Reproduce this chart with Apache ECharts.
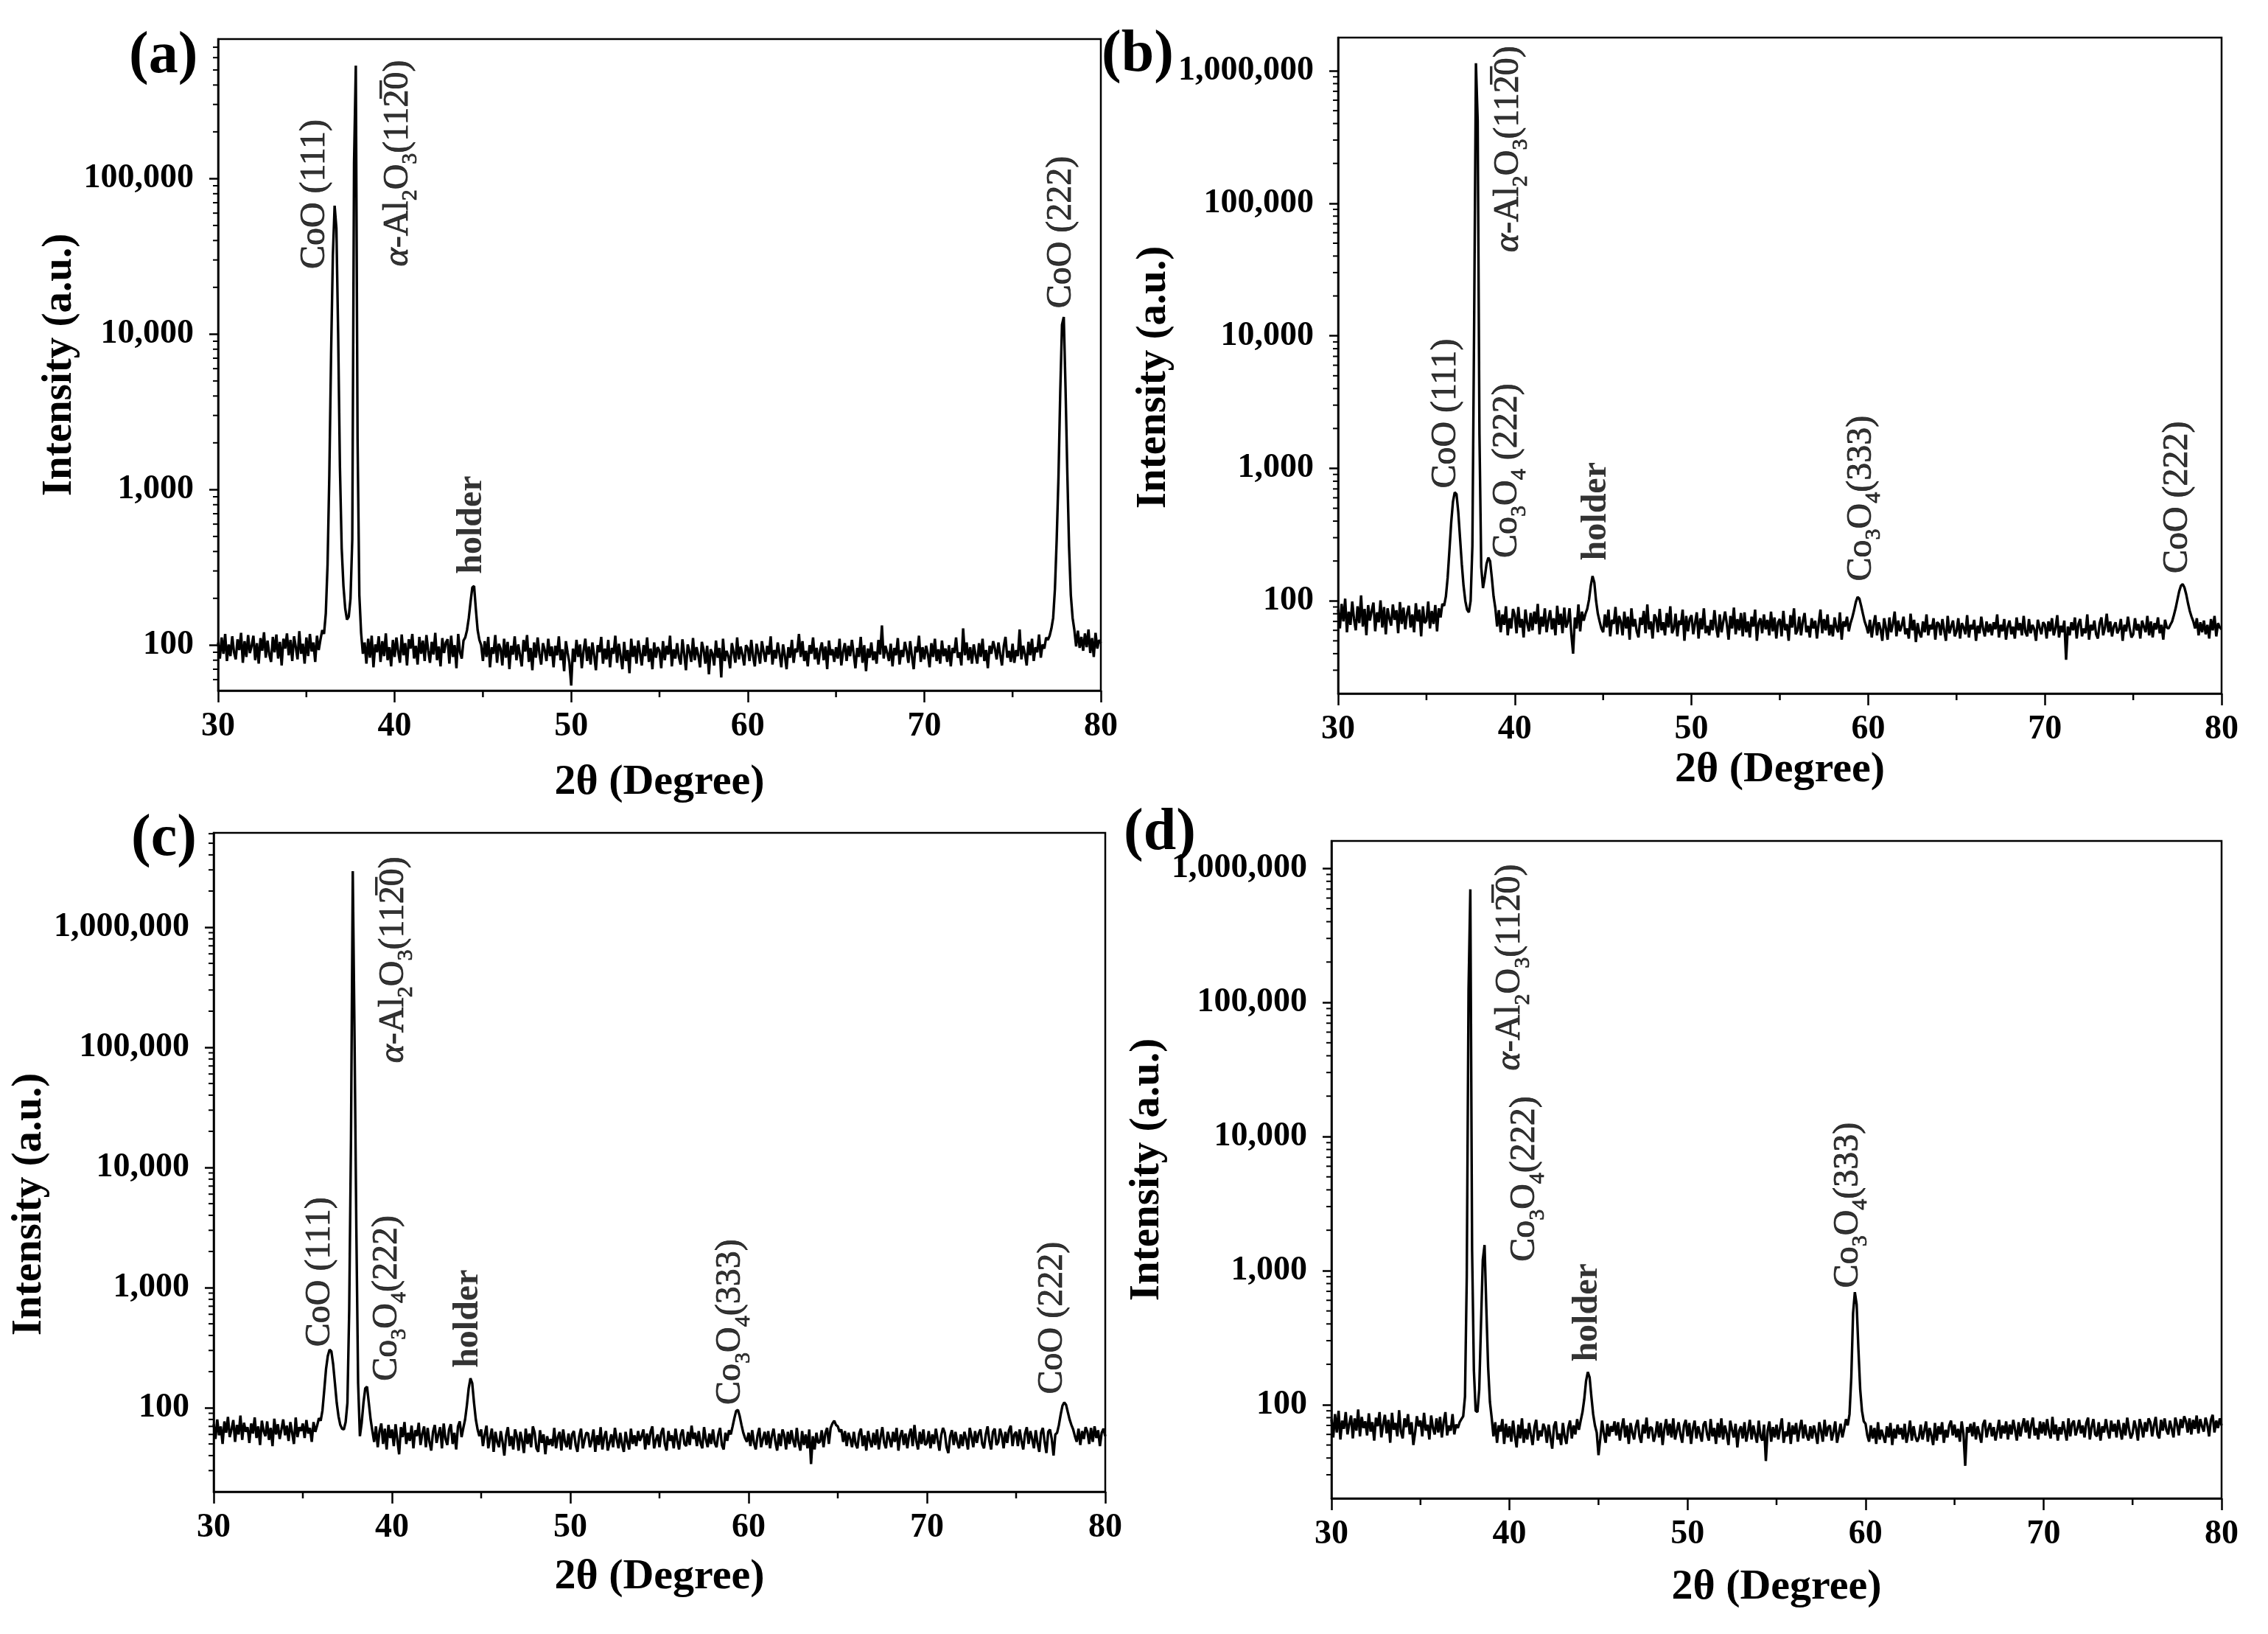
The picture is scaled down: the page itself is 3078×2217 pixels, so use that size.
<!DOCTYPE html>
<html><head><meta charset="utf-8">
<script src="https://cdn.jsdelivr.net/npm/echarts@6/dist/echarts.min.js"></script>
<style>html,body{margin:0;padding:0;background:#fff}#c{width:3078px;height:2217px}</style>
</head><body><div id="c"></div>
<script>
// ---- axis settings (2θ grid starts at 30°, one row per degree, 0.1° steps) ----
const twoThetaStart = 30;
const twoThetaStep = 0.1;
const xTicks = [30, 40, 50, 60, 70, 80];
const xMinorTicks = [35, 45, 55, 65, 75];
const yTicksA = [100, 1000, 10000, 100000];
const yTicksBCD = [100, 1000, 10000, 100000, 1000000];

// ---- intensities (rows: 30.0-30.9, 31.0-31.9, ... , 80.0) ----
const intensityA = [
[104,82,112,88,118,79,101,85,114,90],
[81,109,93,120,77,106,84,116,89,99],
[115,80,103,76,111,92,121,83,107,87],
[78,113,90,117,82,105,74,110,95,119],
[86,108,79,114,97,81,123,88,102,76],
[112,85,118,91,104,78,115,93,109,125],
[118,160,330,1250,7500,32000,67000,48000,10000,1400],
[420,240,172,146,152,200,480,126000,533000,2100],
[210,120,88,104,76,110,83,115,72,101],
[90,114,78,106,85,119,80,97,73,108],
[84,112,91,77,117,86,103,74,109,95],
[118,82,99,75,113,88,107,79,116,92],
[77,105,87,120,80,98,73,111,89,104],
[109,76,115,84,100,71,118,90,82,107],
[112,125,150,190,235,240,170,125,108,100],
[79,106,84,113,72,97,88,116,77,102],
[95,74,110,83,105,70,99,87,114,80],
[101,86,73,108,91,116,78,96,69,104],
[83,112,88,75,103,93,79,110,85,98],
[72,99,86,114,80,94,68,106,89,77],
[55,95,78,108,84,101,71,92,110,79],
[98,75,104,86,69,100,90,113,76,95],
[81,108,72,96,88,115,77,102,85,70],
[105,79,93,66,110,84,99,76,107,89],
[74,100,85,112,78,95,70,104,83,97],
[92,71,106,80,99,87,115,73,94,82],
[103,84,75,109,88,69,101,91,78,111],
[80,97,86,72,105,93,76,99,65,94],
[88,74,107,83,96,62,110,79,92,85],
[71,103,90,77,112,81,98,87,74,100],
[96,79,108,85,73,102,89,76,106,91],
[78,99,87,114,75,93,82,104,88,72],
[101,86,70,97,83,108,77,95,90,118],
[84,106,79,92,73,100,88,112,81,96],
[75,93,104,80,98,70,107,86,94,78],
[97,82,110,74,91,103,79,99,85,108],
[88,71,96,84,113,77,100,68,95,83],
[104,80,91,76,108,87,134,82,99,89],
[79,102,73,96,86,111,75,93,84,105],
[92,77,106,85,70,98,90,115,78,97],
[81,99,88,72,103,84,110,79,94,76],
[107,85,95,78,100,73,96,89,112,83],
[90,74,128,86,104,80,97,76,101,87],
[76,103,84,110,79,93,71,99,88,106],
[95,81,104,87,74,98,113,83,92,78],
[102,77,93,85,126,81,99,88,74,105],
[86,110,79,97,90,117,83,101,95,112],
[108,115,128,150,230,480,1200,4200,11500,12900],
[4500,1300,430,210,150,125,98,124,96,113],
[92,119,97,126,89,111,84,120,95,108],
[103]
];

const intensityB = [
[86,62,95,70,104,58,83,66,99,73],
[60,91,68,110,64,87,55,93,71,84],
[97,59,82,69,101,63,90,56,88,74],
[65,94,72,85,57,98,67,89,61,80],
[92,63,79,58,96,70,86,54,91,68],
[71,99,62,84,67,93,59,88,75,95],
[92,108,150,240,390,560,660,640,470,300],
[190,130,100,86,82,100,260,13000,1140000,420000],
[1800,180,125,150,190,212,200,150,108,88],
[64,85,58,79,66,91,55,74,62,87],
[78,57,90,63,73,53,86,68,59,81],
[60,83,67,95,56,76,64,88,58,72],
[85,61,74,55,92,66,80,57,89,63],
[69,88,56,40,75,62,94,59,83,71],
[80,87,102,130,154,138,100,80,70,62],
[58,79,63,86,54,72,67,90,56,77],
[70,55,83,62,76,51,88,64,73,59],
[53,75,66,84,57,94,61,70,52,79],
[74,58,87,60,69,55,81,63,91,57],
[62,80,54,71,66,86,50,77,59,73],
[78,56,68,82,52,74,61,88,57,65],
[55,72,60,85,63,53,79,58,70,83],
[67,51,77,62,89,56,73,60,81,54],
[82,58,70,53,76,64,86,50,68,74],
[57,79,61,72,55,83,59,75,52,69],
[73,54,84,60,67,50,78,63,88,56],
[60,76,55,70,81,58,65,53,74,62],
[71,52,68,86,57,73,60,79,55,66],
[54,75,63,58,82,51,70,64,76,59],
[68,75,85,98,107,104,92,80,70,64],
[57,72,53,66,78,55,69,61,50,74],
[63,51,75,58,67,83,54,71,59,65],
[76,56,62,52,80,60,72,49,68,57],
[53,70,58,79,55,66,61,74,51,69],
[67,55,73,60,50,77,57,64,71,54],
[59,74,52,68,63,56,78,53,66,61],
[72,50,65,57,76,62,54,70,58,67],
[55,69,61,79,53,66,59,73,51,64],
[71,56,64,52,75,60,68,55,77,58],
[54,73,57,66,61,50,72,63,56,69],
[66,52,70,59,74,55,62,78,53,65],
[58,71,36,64,55,69,60,75,52,67],
[73,54,62,57,79,51,66,60,71,56],
[52,68,75,55,63,80,58,70,54,64],
[69,57,61,73,50,66,59,76,62,53],
[56,74,60,67,52,71,64,58,77,55],
[70,53,68,61,75,57,66,51,72,63],
[62,66,70,78,88,102,118,130,134,126],
[112,96,84,76,70,62,74,55,69,58],
[71,56,66,52,73,60,77,54,68,63],
[61]
];

const intensityC = [
[73,55,80,59,70,50,77,62,84,57],
[66,79,52,72,60,86,54,75,63,69],
[51,74,61,83,56,70,49,78,64,58],
[77,54,68,48,81,60,73,55,66,80],
[59,71,53,76,62,50,83,57,69,64],
[74,56,79,61,68,52,76,63,71,82],
[78,95,140,210,270,305,295,230,160,110],
[85,72,67,66,76,110,650,17000,2930000,116000],
[3100,160,58,75,110,145,150,110,80,64],
[52,70,47,64,74,50,67,45,72,56],
[66,48,73,54,41,69,57,76,50,62],
[53,71,46,65,58,75,49,61,70,47],
[68,52,44,63,72,51,60,69,46,74],
[55,49,66,73,50,62,45,70,77,57],
[68,80,105,145,176,160,110,80,66,58],
[66,48,60,71,46,56,67,43,63,52],
[47,64,52,40,59,69,48,58,45,66],
[58,44,63,53,42,67,50,61,47,70],
[62,46,43,65,51,60,41,58,49,55],
[48,68,46,57,63,44,66,52,47,61],
[45,60,64,49,43,58,67,46,54,62],
[61,47,53,66,43,59,49,69,45,57],
[64,44,51,60,47,68,55,46,62,50],
[43,63,52,45,67,50,59,48,64,53],
[58,66,45,61,49,63,70,46,54,60],
[47,62,68,50,44,64,53,59,46,67],
[53,45,60,66,50,48,63,49,71,55],
[62,48,64,51,46,69,55,47,61,50],
[66,51,47,60,68,49,45,62,53,65],
[60,70,82,94,96,85,72,62,56,52],
[62,48,65,51,45,59,68,47,55,63],
[49,64,46,58,67,52,44,61,48,66],
[59,45,63,50,65,53,47,68,51,44],
[64,49,60,46,66,34,58,45,62,51],
[52,65,47,61,68,50,68,74,78,72],
[70,63,66,52,64,48,62,55,47,63],
[50,46,61,67,48,59,44,64,53,47],
[62,49,66,45,57,69,51,46,63,55],
[47,63,52,68,44,58,65,49,61,46],
[59,67,48,72,53,45,63,50,66,49],
[51,64,46,60,50,67,54,44,59,68],
[62,47,42,58,65,49,63,52,46,60],
[48,63,55,45,68,58,47,64,51,61],
[66,50,46,60,70,53,45,63,67,49],
[52,67,59,46,63,51,65,71,48,60],
[63,48,66,53,45,61,69,50,64,55],
[46,65,51,43,62,68,52,42,63,66],
[55,40,60,62,72,88,104,111,106,92],
[80,72,66,58,52,67,49,64,55,69],
[63,50,68,52,70,56,65,48,62,67],
[58]
];

const intensityD = [
[78,57,85,62,90,55,76,66,88,60],
[72,83,56,79,64,92,58,81,67,75],
[59,86,63,74,54,80,69,88,57,71],
[84,61,77,52,87,65,73,58,91,63],
[56,79,68,85,60,74,50,62,82,69],
[76,58,87,64,71,55,83,67,60,79],
[62,81,57,74,88,59,70,64,85,60],
[71,67,74,78,82,115,900,125000,697000,1400],
[180,90,88,130,400,1200,1550,520,190,105],
[80,58,74,52,70,63,78,51,72,57],
[69,53,76,59,48,71,56,79,52,66],
[55,73,60,50,68,77,54,64,58,72],
[66,52,71,57,47,69,75,55,61,50],
[73,58,51,67,76,56,70,60,78,65],
[76,88,110,150,175,160,115,85,70,62],
[42,56,76,61,52,72,58,69,63,75],
[59,74,54,67,79,57,70,51,73,62],
[55,69,77,58,52,71,61,80,56,68],
[67,53,60,75,57,73,50,66,78,59],
[72,57,79,55,64,74,60,52,70,77],
[58,73,51,66,76,56,69,61,53,71],
[75,60,54,78,58,67,51,73,57,79],
[55,70,61,50,76,65,57,72,48,64],
[69,56,74,53,63,77,55,70,60,52],
[76,58,54,71,38,64,75,53,68,57],
[71,55,67,79,52,63,58,74,51,70],
[60,73,53,66,77,56,71,59,54,69],
[56,70,61,51,74,64,53,77,58,68],
[70,54,63,75,52,61,72,57,66,78],
[70,85,160,480,690,560,260,130,90,75],
[72,59,53,70,56,67,51,74,55,65],
[58,52,69,57,73,50,66,56,71,60],
[67,55,72,52,61,76,54,69,58,53],
[57,71,55,64,75,53,67,59,50,73],
[54,69,60,74,52,65,57,70,76,59],
[71,57,66,53,75,61,35,68,62,72],
[58,74,55,69,60,52,71,77,57,66],
[73,58,68,54,64,77,56,70,61,75],
[55,71,60,77,65,54,74,58,69,79],
[62,76,56,70,80,59,67,55,75,61],
[74,59,78,63,56,81,60,71,54,68],
[60,75,64,54,79,58,72,76,59,66],
[77,61,70,57,73,80,55,68,78,60],
[58,74,54,69,62,78,64,56,76,63],
[72,57,77,65,55,73,59,80,66,56],
[61,76,67,54,78,69,57,74,63,79],
[74,58,70,81,60,56,77,64,79,65],
[60,76,66,57,80,71,59,78,67,82],
[75,62,79,60,77,66,83,61,78,69],
[63,80,71,58,77,84,62,76,67,79],
[70]
];

// ---- peak annotations: [label markup, 2θ, intensity where the label starts] ----
const AL = '{i|α}{n|-Al}{s|2}{n|O}{s|3}{n|(11}{n|2\u0305}{n|0)}';
const labelsA = [
  ['{n|CoO (111)}', 35.5, 26200],
  [AL, 40.19, 27250],
  ['{b|holder}', 44.39, 287],
  ['{n|CoO (222)}', 77.76, 14650]
];
const labelsB = [
  ['{n|CoO (111)}', 36.12, 707],
  [AL, 39.65, 42700],
  ['{n|Co}{s|3}{n|O}{s|4}{n| (222)}', 39.55, 211],
  ['{b|holder}', 44.63, 202],
  ['{n|Co}{s|3}{n|O}{s|4}{n|(333)}', 59.61, 141],
  ['{n|CoO (222)}', 77.52, 161]
];
const labelsC = [
  ['{n|CoO (111)}', 35.98, 322],
  [AL, 40.08, 74000],
  ['{n|Co}{s|3}{n|O}{s|4}{n|(222)}', 39.72, 167],
  ['{b|holder}', 44.3, 215],
  ['{n|Co}{s|3}{n|O}{s|4}{n|(333)}', 59.0, 106],
  ['{n|CoO (222)}', 77.05, 130]
];
const labelsD = [
  [AL, 40.05, 31000],
  ['{n|Co}{s|3}{n|O}{s|4}{n|(222)}', 40.88, 1165],
  ['{b|holder}', 44.38, 209],
  ['{n|Co}{s|3}{n|O}{s|4}{n|(333)}', 59.04, 743]
];

const panelLetters = ['(a)', '(b)', '(c)', '(d)'];
const xTitle = '2θ (Degree)';
const yTitle = 'Intensity (a.u.)';

// ---- helpers ----
function toPoints(rows) {
  const pts = [];
  rows.forEach((row, r) => row.forEach((v, c) => {
    pts.push([+(twoThetaStart + r + c * twoThetaStep).toFixed(2), v]);
  }));
  return pts;
}
function minorTicks(min, max) {
  const out = [];
  for (let e = 0; e <= 7; e++) {
    for (let k = 2; k <= 9; k++) {
      const v = k * Math.pow(10, e);
      if (v > min && v < max) out.push(v);
    }
  }
  return out;
}

const F = 'Liberation Serif';
const ink = { color: '#000', textBorderColor: '#000', textBorderWidth: 0.8 };
const rich = {
  n: Object.assign({ fontFamily: F, fontSize: 48, lineHeight: 64 }, ink),
  b: { fontFamily: F, fontSize: 48, fontWeight: 'bold', color: '#000', lineHeight: 64 },
  i: Object.assign({ fontFamily: F, fontSize: 48, fontStyle: 'italic', lineHeight: 64 }, ink),
  s: Object.assign({ fontFamily: F, fontSize: 30, verticalAlign: 'bottom', lineHeight: 64 }, ink)
};

const panels = [
  { grid: { left: 296, top: 53, width: 1198, height: 884 }, yMin: 51, yMax: 790000, majors: yTicksA,
    data: intensityA, labels: labelsA, yGap: 180, yPad: [0, 0, 0, 0], xGap: 96,
    letter: { left: 170, top: 32 } },
  { grid: { left: 1816, top: 51, width: 1199, height: 890 }, yMin: 20, yMax: 1780000, majors: yTicksBCD,
    data: intensityB, labels: labelsB, yGap: 190, yPad: [0, 32, 0, 0], xGap: 75,
    letter: { left: 1490, top: 30 } },
  { grid: { left: 290, top: 1130, width: 1210, height: 894 }, yMin: 20, yMax: 6100000, majors: yTicksBCD,
    data: intensityC, labels: labelsC, yGap: 188, yPad: [0, 114, 0, 0], xGap: 87,
    letter: { left: 173, top: 1094 } },
  { grid: { left: 1807, top: 1141, width: 1208, height: 892 }, yMin: 20, yMax: 1600000, majors: yTicksBCD,
    data: intensityD, labels: labelsD, yGap: 205, yPad: [0, 0, 0, 0], xGap: 92,
    letter: { left: 1520, top: 1086 } }
];

const option = {
  animation: false,
  backgroundColor: '#fff',
  title: [], grid: [], xAxis: [], yAxis: [], series: []
};

// short outward tick drawn at a data position through the axis scales
function tickSeries(i, pts, dir, len, width) {
  return {
    type: 'custom', xAxisIndex: i, yAxisIndex: i, silent: true, clip: false, z: 4,
    data: pts,
    renderItem: (params, api) => {
      const pt = api.coord([api.value(0), api.value(1)]);
      const shape = dir === 'left'
        ? { x1: pt[0] - len, y1: pt[1], x2: pt[0], y2: pt[1] }
        : { x1: pt[0], y1: pt[1], x2: pt[0], y2: pt[1] + len };
      return { type: 'line', shape: shape, style: { stroke: '#000', lineWidth: width } };
    }
  };
}

panels.forEach((p, i) => {
  option.title.push({
    text: panelLetters[i], left: p.letter.left, top: p.letter.top,
    textStyle: { fontFamily: F, fontWeight: 'bold', fontSize: 80, color: '#000' }
  });
  option.grid.push(Object.assign({ show: true, borderColor: '#000', borderWidth: 2.5, backgroundColor: 'transparent' }, p.grid));
  option.xAxis.push({
    type: 'value', gridIndex: i, min: 30, max: 80, interval: 10,
    name: xTitle, nameLocation: 'middle', nameGap: p.xGap,
    nameTextStyle: { fontFamily: F, fontWeight: 'bold', fontSize: 58, color: '#000' },
    axisLine: { show: true, lineStyle: { color: '#000', width: 2.5 } },
    axisTick: { show: true, inside: false, length: 16, lineStyle: { color: '#000', width: 2.5 } },
    minorTick: { show: false },
    axisLabel: { fontFamily: F, fontWeight: 'bold', fontSize: 46, color: '#000', margin: 26,
      customValues: xTicks },
    splitLine: { show: false }, minorSplitLine: { show: false }
  });
  option.yAxis.push({
    type: 'log', logBase: 10, gridIndex: i, position: 'left', min: p.yMin, max: p.yMax,
    name: yTitle, nameLocation: 'middle', nameGap: p.yGap,
    nameTextStyle: { fontFamily: F, fontWeight: 'bold', fontSize: 57, color: '#000', padding: p.yPad },
    axisLine: { show: true, lineStyle: { color: '#000', width: 2.5 } },
    axisTick: { show: true, inside: false, length: 12, lineStyle: { color: '#000', width: 2.5 },
      customValues: p.majors },
    axisLabel: { fontFamily: F, fontWeight: 'bold', fontSize: 46, color: '#000', margin: 33,
      customValues: p.majors,
      formatter: v => Math.round(v).toLocaleString('en-US') },
    splitLine: { show: false }
  });
  option.series.push({
    type: 'line', xAxisIndex: i, yAxisIndex: i,
    data: toPoints(p.data), showSymbol: false, symbol: 'none',
    lineStyle: { color: '#000', width: 3.4, join: 'bevel' }, z: 3, silent: true
  });
  option.series.push({
    type: 'scatter', xAxisIndex: i, yAxisIndex: i, symbolSize: 0, silent: true,
    data: p.labels.map(l => [l[1], l[2], l[0]]),
    label: {
      show: true, position: 'top', distance: 0, rotate: 90, align: 'left', verticalAlign: 'middle',
      formatter: d => d.data[2], rich: rich
    }
  });
  // log minor ticks (2..9 × 10^n) on the left edge, 5° minor ticks on the bottom edge
  option.series.push(tickSeries(i, minorTicks(p.yMin, p.yMax).map(v => [30, v]), 'left', 7, 2));
  option.series.push(tickSeries(i, xMinorTicks.map(v => [v, p.yMin]), 'down', 9, 2.5));
});

const chart = echarts.init(document.getElementById('c'), null, { renderer: 'canvas' });
chart.setOption(option);
</script></body></html>
